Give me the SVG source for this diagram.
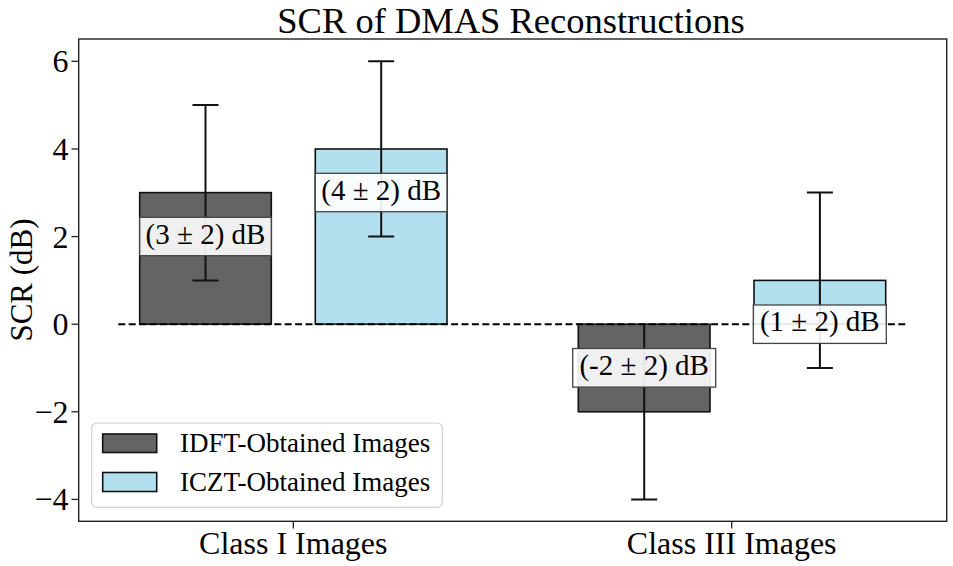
<svg xmlns="http://www.w3.org/2000/svg" width="953" height="566" viewBox="0 0 953 566">
<style>
text{font-family:"Liberation Serif","Times New Roman",serif;fill:#000}
.title{font-size:36.5px}
.tick{font-size:32px}
.ylab{font-size:31px}
.val{font-size:29px}
.leg{font-size:27px}
.frame{fill:none;stroke:#222;stroke-width:1.4}
.tk{stroke:#222;stroke-width:1.3}
.bar-d{fill:#646464;stroke:#111;stroke-width:1.6}
.bar-b{fill:#b3e0ef;stroke:#111;stroke-width:1.6}
.err{stroke:#111;stroke-width:2;fill:none}
.zero{stroke:#000;stroke-width:2;stroke-dasharray:7 3.4;fill:none}
.lbox{fill:#fff;fill-opacity:0.9;stroke:#444;stroke-width:1.3}
</style>
<rect width="953" height="566" fill="#fff"/>
<text class="title" x="511" y="32.5" text-anchor="middle">SCR of DMAS Reconstructions</text>

<g id="axes">
<rect class="frame" x="78.7" y="39" width="868" height="482.3"/>
<g class="tk">
<line x1="71.5" y1="61.3" x2="78.7" y2="61.3"/>
<line x1="71.5" y1="149" x2="78.7" y2="149"/>
<line x1="71.5" y1="236.6" x2="78.7" y2="236.6"/>
<line x1="71.5" y1="324.2" x2="78.7" y2="324.2"/>
<line x1="71.5" y1="411.8" x2="78.7" y2="411.8"/>
<line x1="71.5" y1="499.4" x2="78.7" y2="499.4"/>
<line x1="293.3" y1="521.3" x2="293.3" y2="528.5"/>
<line x1="731.7" y1="521.3" x2="731.7" y2="528.5"/>
</g>
<g class="tick" text-anchor="end">
<text x="68.5" y="72.3">6</text>
<text x="68.5" y="160">4</text>
<text x="68.5" y="247.6">2</text>
<text x="68.5" y="335.2">0</text>
<text x="68.5" y="422.8">−2</text>
<text x="68.5" y="510.4">−4</text>
</g>
<text class="tick" x="293.3" y="554" text-anchor="middle">Class I Images</text>
<text class="tick" x="731.7" y="554" text-anchor="middle">Class III Images</text>
<text class="ylab" transform="translate(31.5,280) rotate(-90)" text-anchor="middle">SCR (dB)</text>
</g>

<g id="bars">
<rect id="bar-c1-idft" class="bar-d" x="139.7" y="192.6" width="131.6" height="131.6"/>
<rect id="bar-c1-iczt" class="bar-b" x="315.3" y="149" width="131.7" height="175.2"/>
<rect id="bar-c3-idft" class="bar-d" x="578.3" y="324.2" width="131.7" height="87.6"/>
<rect id="bar-c3-iczt" class="bar-b" x="754" y="280.4" width="131.7" height="43.8"/>
</g>

<g id="connectors">
<g class="err">
<path d="M205.5 105 V280.4 M192.5 105 H218.5 M192.5 280.4 H218.5"/>
<path d="M381.2 61.3 V236.6 M368.2 61.3 H394.2 M368.2 236.6 H394.2"/>
<path d="M644.2 324.2 V499.4 M631.2 499.4 H657.2"/>
<path d="M819.9 192.6 V368 M806.9 192.6 H832.9 M806.9 368 H832.9"/>
</g>
<line class="zero" x1="118.3" y1="324.2" x2="907.7" y2="324.2"/>
</g>

<g id="labels">
<g id="lab-c1-idft">
<rect class="lbox" x="139.7" y="217.3" width="131.6" height="38.4"/>
<text class="val" x="205.5" y="243.6" text-anchor="middle">(3 ± 2) dB</text>
</g>
<g id="lab-c1-iczt">
<rect class="lbox" x="315.3" y="173.3" width="131.7" height="38.4"/>
<text class="val" x="381.2" y="199.6" text-anchor="middle">(4 ± 2) dB</text>
</g>
<g id="lab-c3-idft">
<rect class="lbox" x="572.7" y="348.5" width="143" height="38.6"/>
<text class="val" x="644.2" y="374.9" text-anchor="middle">(-2 ± 2) dB</text>
</g>
<g id="lab-c3-iczt">
<rect class="lbox" x="753.3" y="305" width="133" height="38.4"/>
<text class="val" x="819.8" y="331.2" text-anchor="middle">(1 ± 2) dB</text>
</g>
</g>

<g id="legend">
<rect x="91.7" y="423" width="350.6" height="84.3" rx="5" fill="#fff" fill-opacity="0.8" stroke="#d0d0d0" stroke-width="1.2"/>
<rect class="bar-d" x="102.7" y="434" width="54" height="18.5"/>
<rect class="bar-b" x="102.7" y="472.5" width="54" height="19"/>
<text class="leg" x="180" y="452">IDFT-Obtained Images</text>
<text class="leg" x="180" y="491">ICZT-Obtained Images</text>
</g>
</svg>
